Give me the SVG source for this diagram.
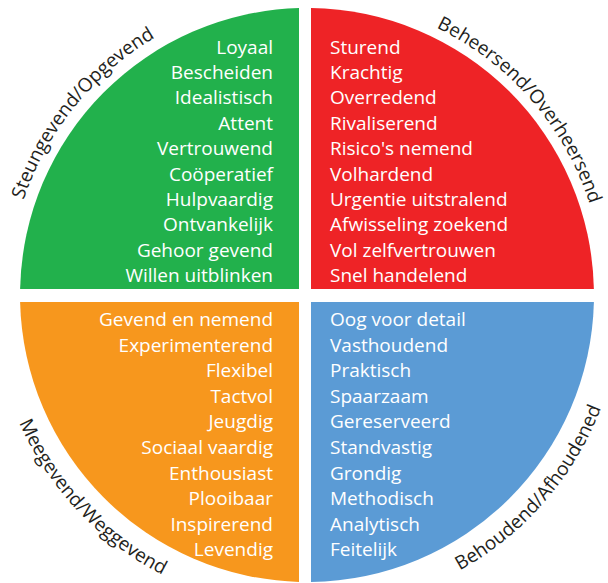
<svg xmlns="http://www.w3.org/2000/svg" width="608" height="583" viewBox="0 0 608 583">
  <style>
    .item { font-family: "Open Sans", "Liberation Sans", sans-serif; font-size: 19px; fill: #ffffff; }
    .right { text-anchor: end; }
    .left { text-anchor: start; }
    .label { font-family: "Open Sans", "Liberation Sans", sans-serif; font-size: 19px; fill: #231f20; text-anchor: middle; }
  </style>
  <defs>
    <!-- baselines for the curved quadrant titles (circle centre 307,295) -->
    <path id="arc-tl" d="M 9.64 326.25 A 299 299 0 0 1 275.75 -2.36"/>
    <path id="arc-tr" d="M 327.72 -1.28 A 297 297 0 0 1 603.28 315.72"/>
    <path id="arc-bl" d="M -7.86 285.65 A 315 315 0 0 0 297.65 609.86"/>
    <path id="arc-br" d="M 328.97 609.23 A 315 315 0 0 0 621.23 273.03"/>
  </defs>
  <rect width="608" height="583" fill="#ffffff"/>

  <!-- top-left: supporting -->
  <g id="steungevend">
    <path d="M 299 289 L 299 8.1 A 287 287 0 0 0 20.1 289 Z" fill="#22b14c"/>
    <g class="item right">
      <text x="273" y="53.5">Loyaal</text>
      <text x="273" y="78.9">Bescheiden</text>
      <text x="273" y="104.3">Idealistisch</text>
      <text x="273" y="129.7">Attent</text>
      <text x="273" y="155.1">Vertrouwend</text>
      <text x="273" y="180.5">Coöperatief</text>
      <text x="273" y="205.9">Hulpvaardig</text>
      <text x="273" y="231.3">Ontvankelijk</text>
      <text x="273" y="256.7">Gehoor gevend</text>
      <text x="273" y="282.1">Willen uitblinken</text>
    </g>
    <text class="label"><textPath href="#arc-tl" startOffset="50%">Steungevend/Opgevend</textPath></text>
  </g>

  <!-- top-right: controlling -->
  <g id="beheersend">
    <path d="M 311 289 L 311 8 A 287 287 0 0 1 593.9 289 Z" fill="#ee2326"/>
    <g class="item left">
      <text x="330" y="53.5">Sturend</text>
      <text x="330" y="78.9">Krachtig</text>
      <text x="330" y="104.3">Overredend</text>
      <text x="330" y="129.7">Rivaliserend</text>
      <text x="330" y="155.1">Risico's nemend</text>
      <text x="330" y="180.5">Volhardend</text>
      <text x="330" y="205.9">Urgentie uitstralend</text>
      <text x="330" y="231.3">Afwisseling zoekend</text>
      <text x="330" y="256.7">Vol zelfvertrouwen</text>
      <text x="330" y="282.1">Snel handelend</text>
    </g>
    <text class="label"><textPath href="#arc-tr" startOffset="50%">Beheersend/Overheersend</textPath></text>
  </g>

  <!-- bottom-left: adapting -->
  <g id="meegevend">
    <path d="M 299 302 L 299 581.9 A 287 287 0 0 1 20.1 302 Z" fill="#f7971d"/>
    <g class="item right">
      <text x="273" y="326">Gevend en nemend</text>
      <text x="273" y="351.6">Experimenterend</text>
      <text x="273" y="377.2">Flexibel</text>
      <text x="273" y="402.8">Tactvol</text>
      <text x="273" y="428.4">Jeugdig</text>
      <text x="273" y="454">Sociaal vaardig</text>
      <text x="273" y="479.6">Enthousiast</text>
      <text x="273" y="505.2">Plooibaar</text>
      <text x="273" y="530.8">Inspirerend</text>
      <text x="273" y="556.4">Levendig</text>
    </g>
    <text class="label"><textPath href="#arc-bl" startOffset="50%">Meegevend/Weggevend</textPath></text>
  </g>

  <!-- bottom-right: conserving -->
  <g id="behoudend">
    <path d="M 311 302 L 311 582 A 287 287 0 0 0 593.9 302 Z" fill="#5b9bd5"/>
    <g class="item left">
      <text x="330" y="326">Oog voor detail</text>
      <text x="330" y="351.6">Vasthoudend</text>
      <text x="330" y="377.2">Praktisch</text>
      <text x="330" y="402.8">Spaarzaam</text>
      <text x="330" y="428.4">Gereserveerd</text>
      <text x="330" y="454">Standvastig</text>
      <text x="330" y="479.6">Grondig</text>
      <text x="330" y="505.2">Methodisch</text>
      <text x="330" y="530.8">Analytisch</text>
      <text x="330" y="556.4">Feitelijk</text>
    </g>
    <text class="label"><textPath href="#arc-br" startOffset="50%">Behoudend/Afhoudened</textPath></text>
  </g>
</svg>
